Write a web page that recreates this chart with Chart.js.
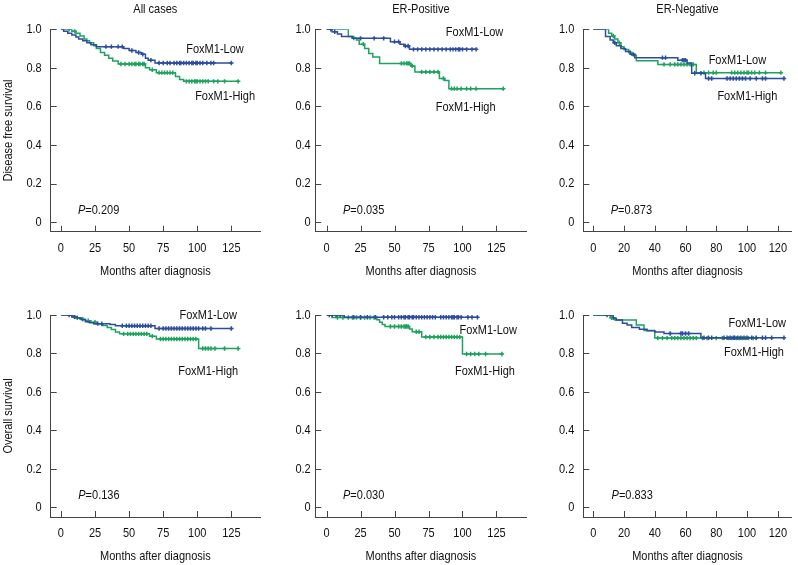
<!DOCTYPE html>
<html>
<head>
<meta charset="utf-8">
<script src="https://cdn.jsdelivr.net/npm/chart.js@4.4.1/dist/chart.umd.min.js"></script>
<style>
  html, body { margin: 0; padding: 0; background: #fff; }
  #wrap { position: relative; width: 798px; height: 565px; overflow: hidden; }
  #wrap canvas { position: absolute; }
</style>
</head>
<body>
<div id="wrap"></div>
<script>
// Kaplan-Meier curves, FoxM1-Low (blue) vs FoxM1-High (green)
// each curve: event times (months), survival after each event, censor times

const xTicks25 = [0, 25, 50, 75, 100, 125];
const xTicks20 = [0, 20, 40, 60, 80, 100, 120];
const yTicks = [0, 0.2, 0.4, 0.6, 0.8, 1.0];

// Disease free survival - All cases
const dfsAllLowT = [2, 5, 8, 11, 13, 16, 19, 22, 26, 46, 50, 55, 59, 62, 64, 69];
const dfsAllLowS = [0.99, 0.98, 0.97, 0.96, 0.95, 0.94, 0.93, 0.92, 0.91, 0.90, 0.89, 0.88, 0.87, 0.85, 0.84, 0.825];
const dfsAllLowC = [33, 37, 42, 45, 52, 57, 60, 66, 72, 75, 78, 80, 83, 85, 87, 88, 90, 92, 94, 96, 97, 99, 100, 102, 104, 107, 110, 112, 125];
const dfsAllHighT = [8, 11, 14, 17, 19, 21, 24, 26, 29, 32, 35, 38, 42, 62, 65, 70, 84, 87, 90];
const dfsAllHighS = [0.99, 0.98, 0.965, 0.95, 0.94, 0.93, 0.915, 0.9, 0.88, 0.865, 0.85, 0.835, 0.82, 0.80, 0.79, 0.775, 0.755, 0.74, 0.73];
const dfsAllHighC = [6, 10, 44, 47, 50, 52, 54, 55, 57, 58, 60, 61, 67, 72, 74, 76, 78, 80, 82, 92, 94, 96, 98, 99, 100, 102, 104, 106, 108, 112, 115, 120, 130];

// Disease free survival - ER-Positive
const dfsPosLowT = [4, 8, 11, 19, 47, 54, 57, 61];
const dfsPosLowS = [0.987, 0.975, 0.962, 0.953, 0.936, 0.923, 0.913, 0.896];
const dfsPosLowC = [3, 6, 25, 35, 42, 50, 53, 58, 60, 64, 67, 70, 73, 76, 79, 82, 85, 88, 91, 93, 95, 97, 98, 100, 103, 107, 110];
const dfsPosHighT = [16, 19, 22, 24, 28, 31, 34, 39, 62, 65, 83, 87, 90];
const dfsPosHighS = [0.962, 0.955, 0.944, 0.923, 0.9, 0.875, 0.856, 0.823, 0.81, 0.779, 0.745, 0.735, 0.692];
const dfsPosHighC = [20, 27, 55, 57, 59, 60, 61, 63, 70, 73, 76, 79, 82, 86, 92, 94, 96, 99, 103, 106, 110, 130];

// Disease free survival - ER-Negative
const dfsNegLowT = [8, 11, 13, 15, 18, 21, 24, 27, 55, 61, 64, 73];
const dfsNegLowS = [0.962, 0.945, 0.93, 0.915, 0.9, 0.885, 0.87, 0.853, 0.84, 0.825, 0.772, 0.745];
const dfsNegLowC = [14, 26, 45, 47, 58, 59, 60, 66, 70, 75, 77, 87, 89, 91, 93, 95, 97, 99, 102, 106, 110, 112, 124];
const dfsNegHighT = [10, 12, 14, 16, 18, 20, 23, 25, 28, 42, 67];
const dfsNegHighS = [0.98, 0.965, 0.95, 0.93, 0.91, 0.895, 0.88, 0.865, 0.837, 0.818, 0.775];
const dfsNegHighC = [13, 17, 24, 46, 50, 53, 55, 57, 59, 61, 63, 65, 72, 75, 78, 80, 90, 92, 94, 96, 98, 100, 101, 103, 105, 108, 112, 122];

// Overall survival - All cases
const osAllLowT = [8, 12, 15, 18, 21, 24, 36, 40, 69];
const osAllLowS = [0.99, 0.985, 0.975, 0.965, 0.96, 0.955, 0.95, 0.944, 0.93];
const osAllLowC = [6, 10, 27, 30, 45, 48, 50, 52, 54, 56, 58, 60, 62, 64, 66, 72, 75, 77, 79, 81, 83, 85, 87, 89, 91, 93, 95, 97, 99, 101, 104, 106, 110, 125];
const osAllHighT = [10, 14, 18, 22, 26, 30, 34, 37, 40, 43, 65, 70, 101];
const osAllHighS = [0.986, 0.978, 0.97, 0.962, 0.955, 0.945, 0.935, 0.925, 0.912, 0.902, 0.89, 0.875, 0.826];
const osAllHighC = [8, 12, 16, 20, 25, 46, 49, 51, 53, 55, 57, 59, 61, 63, 67, 73, 75, 77, 79, 81, 83, 85, 87, 89, 91, 93, 95, 97, 99, 104, 106, 108, 110, 113, 120, 130];

// Overall survival - ER-Positive
const osPosLowT = [13];
const osPosLowS = [0.988];
const osPosLowC = [2, 4, 7, 10, 20, 25, 30, 36, 42, 45, 48, 50, 53, 55, 57, 58, 60, 61, 63, 64, 66, 68, 70, 72, 74, 76, 78, 80, 84, 86, 88, 90, 92, 93, 94, 96, 97, 99, 104, 107, 111];
const osPosHighT = [4, 37, 39, 41, 43, 61, 63, 70, 100];
const osPosHighS = [0.987, 0.975, 0.962, 0.95, 0.94, 0.927, 0.913, 0.886, 0.797];
const osPosHighC = [8, 12, 16, 19, 22, 25, 28, 32, 35, 47, 50, 53, 55, 57, 58, 59, 60, 66, 68, 73, 76, 79, 82, 84, 86, 88, 90, 92, 94, 96, 98, 103, 106, 109, 112, 117, 129];

// Overall survival - ER-Negative
const osNegLowT = [13, 15, 19, 22, 25, 30, 35, 40, 46, 70];
const osNegLowS = [0.983, 0.974, 0.957, 0.948, 0.935, 0.926, 0.918, 0.912, 0.904, 0.882];
const osNegLowC = [9, 50, 57, 58, 60, 62, 72, 75, 77, 85, 87, 89, 91, 92, 94, 96, 98, 100, 103, 106, 110, 112, 116, 124];
const osNegHighT = [11, 14, 28, 33, 40];
const osNegHighS = [0.986, 0.974, 0.948, 0.92, 0.88];
const osNegHighC = [12, 13, 42, 45, 48, 51, 53, 55, 57, 59, 61, 63, 65, 67, 71, 74, 80, 84, 88, 90, 93, 95, 97, 99, 101, 104, 106];

const BLUE = '#2c4c9c';
const GREEN = '#1ea25e';
const INK = '#111';
const AXIS = '#444';
const FONT = "'Liberation Sans', Arial, sans-serif";
const FONT_SIZE = 13.5;
const LINE_H = FONT_SIZE * 1.2;
const NARROW = 0.815; // the original uses a condensed face

// no narrow face installed: squeeze all canvas text horizontally
const baseFillText = CanvasRenderingContext2D.prototype.fillText;
CanvasRenderingContext2D.prototype.fillText = function(text, x, y) {
    this.save();
    this.translate(x, y);
    this.scale(NARROW, 1);
    baseFillText.call(this, text, 0, 0);
    this.restore();
};

// panel layout: canvas box and plot area in page pixels [left, top, right, bottom]
const panels = [
    { box: [0, 0, 266, 284], area: [50.7, 29.3, 260, 231.7], xRange: [-7.5, 146], xTicks: xTicks25, gap: 9,
      title: 'All cases', yTitle: 'Disease free survival', p: '0.209',
      low: [dfsAllLowT, dfsAllLowS, dfsAllLowC], high: [dfsAllHighT, dfsAllHighS, dfsAllHighC],
      lowAt: [113, 0.898], highAt: [120.4, 0.65], pAt: [12.5, 0.061] },
    { box: [266, 0, 532, 284], area: [315.3, 29.3, 528, 231.7], xRange: [-8.3, 147.1], xTicks: xTicks25, gap: 4.6,
      title: 'ER-Positive', yTitle: '', p: '0.035',
      low: [dfsPosLowT, dfsPosLowS, dfsPosLowC], high: [dfsPosHighT, dfsPosHighS, dfsPosHighC],
      lowAt: [108.9, 0.982], highAt: [102.3, 0.598], pAt: [12.1, 0.061] },
    { box: [532, 0, 798, 284], area: [583.3, 29.3, 793, 231.7], xRange: [-6.46, 129], xTicks: xTicks20, gap: 9,
      title: 'ER-Negative', yTitle: '', p: '0.873',
      low: [dfsNegLowT, dfsNegLowS, dfsNegLowC], high: [dfsNegHighT, dfsNegHighS, dfsNegHighC],
      lowAt: [93.7, 0.84], highAt: [100.2, 0.65], pAt: [11.4, 0.061] },
    { box: [0, 284, 266, 565], area: [50.7, 315, 260, 517], xRange: [-7.5, 146], xTicks: xTicks25, gap: 9,
      title: '', yTitle: 'Overall survival', p: '0.136',
      low: [osAllLowT, osAllLowS, osAllLowC], high: [osAllHighT, osAllHighS, osAllHighC],
      lowAt: [108, 0.996], highAt: [108, 0.709], pAt: [12.7, 0.064] },
    { box: [266, 284, 532, 565], area: [315.3, 315, 528, 517], xRange: [-8.3, 147.1], xTicks: xTicks25, gap: 4.6,
      title: '', yTitle: '', p: '0.030',
      low: [osPosLowT, osPosLowS, osPosLowC], high: [osPosHighT, osPosHighS, osPosHighC],
      lowAt: [118.9, 0.922], highAt: [116.5, 0.709], pAt: [12.1, 0.064] },
    { box: [532, 284, 798, 565], area: [583.3, 315, 793, 517], xRange: [-6.46, 129], xTicks: xTicks20, gap: 9,
      title: '', yTitle: '', p: '0.833',
      low: [osNegLowT, osNegLowS, osNegLowC], high: [osNegHighT, osNegHighS, osNegHighC],
      lowAt: [106.6, 0.957], highAt: [104.5, 0.806], pAt: [11.9, 0.064] }
];

/**
 * Survival value at time t from a step curve
 */
function stepValue(t, times, surv) {
    let v = 1;
    for (let i = 0; i < times.length; i++) {
        if (times[i] <= t) v = surv[i];
    }
    return v;
}

function curvePoints(times, surv, cens) {
    const pts = [{ x: 0, y: 1 }];
    times.forEach((t, i) => pts.push({ x: t, y: surv[i] }));
    const end = Math.max(...cens, ...times);
    pts.push({ x: end, y: stepValue(end, times, surv) });
    return pts;
}

function censorPoints(times, surv, cens) {
    return cens.map(c => ({ x: c, y: stepValue(c, times, surv) }));
}

function curveDatasets(curve, color) {
    const [t, s, c] = curve;
    return [
        {
            data: curvePoints(t, s, c),
            borderColor: color,
            borderWidth: 1.5,
            stepped: 'before',
            pointRadius: 0,
            fill: false
        },
        {
            data: censorPoints(t, s, c),
            showLine: false,
            pointStyle: 'cross',
            pointRadius: 2.2,
            borderColor: color,
            borderWidth: 1.5
        }
    ];
}

// inward tick marks and the in-plot texts
const panelDecor = {
    id: 'panelDecor',
    afterDraw(chart) {
        const { ctx, chartArea: ca, scales: { x, y } } = chart;
        const p = chart.options.plugins.panelDecor;
        ctx.save();
        ctx.strokeStyle = AXIS;
        ctx.lineWidth = 1;
        ctx.beginPath();
        p.xTicks.forEach(v => {
            const px = Math.round(x.getPixelForValue(v)) + 0.5;
            ctx.moveTo(px, ca.bottom);
            ctx.lineTo(px, ca.bottom - 6);
        });
        yTicks.forEach(v => {
            const py = Math.round(y.getPixelForValue(v)) + 0.5;
            ctx.moveTo(ca.left, py);
            ctx.lineTo(ca.left + 6, py);
        });
        ctx.stroke();

        ctx.fillStyle = INK;
        ctx.textBaseline = 'middle';
        ctx.font = FONT_SIZE + 'px ' + FONT;
        ctx.textAlign = 'center';
        ctx.fillText('FoxM1-Low', x.getPixelForValue(p.lowAt[0]), y.getPixelForValue(p.lowAt[1]));
        ctx.fillText('FoxM1-High', x.getPixelForValue(p.highAt[0]), y.getPixelForValue(p.highAt[1]));

        // P value with italic P
        ctx.textAlign = 'left';
        const px = x.getPixelForValue(p.pAt[0]);
        const py = y.getPixelForValue(p.pAt[1]);
        ctx.font = 'italic ' + FONT_SIZE + 'px ' + FONT;
        ctx.fillText('P', px, py);
        const w = ctx.measureText('P').width * NARROW;
        ctx.font = FONT_SIZE + 'px ' + FONT;
        ctx.fillText('=' + p.p, px + w, py);
        ctx.restore();
    }
};

function makePanel(cfg) {
    const wrap = document.getElementById('wrap');
    const canvas = document.createElement('canvas');
    const w = cfg.box[2] - cfg.box[0];
    const h = cfg.box[3] - cfg.box[1];
    canvas.width = w;
    canvas.height = h;
    canvas.style.left = cfg.box[0] + 'px';
    canvas.style.top = cfg.box[1] + 'px';
    canvas.style.width = w + 'px';
    canvas.style.height = h + 'px';
    wrap.appendChild(canvas);

    const areaLeft = cfg.area[0] - cfg.box[0];
    const areaTop = cfg.area[1] - cfg.box[1];
    const areaRight = cfg.area[2] - cfg.box[0];
    const areaBottom = cfg.area[3] - cfg.box[1];
    const hasTitle = cfg.title !== '';
    const font = { family: FONT, size: FONT_SIZE };

    new Chart(canvas.getContext('2d'), {
        type: 'line',
        data: {
            datasets: [
                ...curveDatasets(cfg.low, BLUE),
                ...curveDatasets(cfg.high, GREEN)
            ]
        },
        options: {
            responsive: false,
            animation: false,
            devicePixelRatio: 1,
            layout: {
                padding: { left: 0, right: w - areaRight, top: hasTitle ? 0 : areaTop, bottom: 0 }
            },
            plugins: {
                legend: { display: false },
                tooltip: { enabled: false },
                title: {
                    display: hasTitle,
                    text: cfg.title,
                    fullSize: false,
                    color: INK,
                    font: { family: FONT, size: FONT_SIZE, weight: 'normal' },
                    padding: { top: 1.2, bottom: areaTop - 1.2 - LINE_H }
                },
                panelDecor: { xTicks: cfg.xTicks, lowAt: cfg.lowAt, highAt: cfg.highAt, pAt: cfg.pAt, p: cfg.p }
            },
            scales: {
                x: {
                    type: 'linear',
                    min: cfg.xRange[0],
                    max: cfg.xRange[1],
                    afterBuildTicks: s => { s.ticks = cfg.xTicks.map(v => ({ value: v })); },
                    afterFit: s => { s.height = h - areaBottom; },
                    grid: { display: false, drawTicks: false },
                    border: { display: true, color: AXIS, width: 1 },
                    ticks: { color: INK, padding: 8.5, maxRotation: 0, autoSkip: false, font: font },
                    title: {
                        display: true,
                        text: 'Months after diagnosis',
                        color: INK,
                        font: font,
                        padding: { top: 0, bottom: hasTitle ? 4.2 : 0.9 }
                    }
                },
                y: {
                    min: -0.05,
                    max: 1.0,
                    afterBuildTicks: s => { s.ticks = yTicks.map(v => ({ value: v })); },
                    afterFit: s => { s.width = areaLeft; },
                    grid: { display: false, drawTicks: false },
                    border: { display: true, color: AXIS, width: 1 },
                    ticks: {
                        color: INK,
                        padding: cfg.gap,
                        font: font,
                        callback: v => (v === 0 ? '0' : v.toFixed(1))
                    },
                    title: {
                        display: cfg.yTitle !== '',
                        text: cfg.yTitle,
                        color: INK,
                        font: font,
                        padding: { top: 0.2, bottom: 0 }
                    }
                }
            }
        },
        plugins: [panelDecor]
    });
}

panels.forEach(makePanel);
</script>
</body>
</html>
